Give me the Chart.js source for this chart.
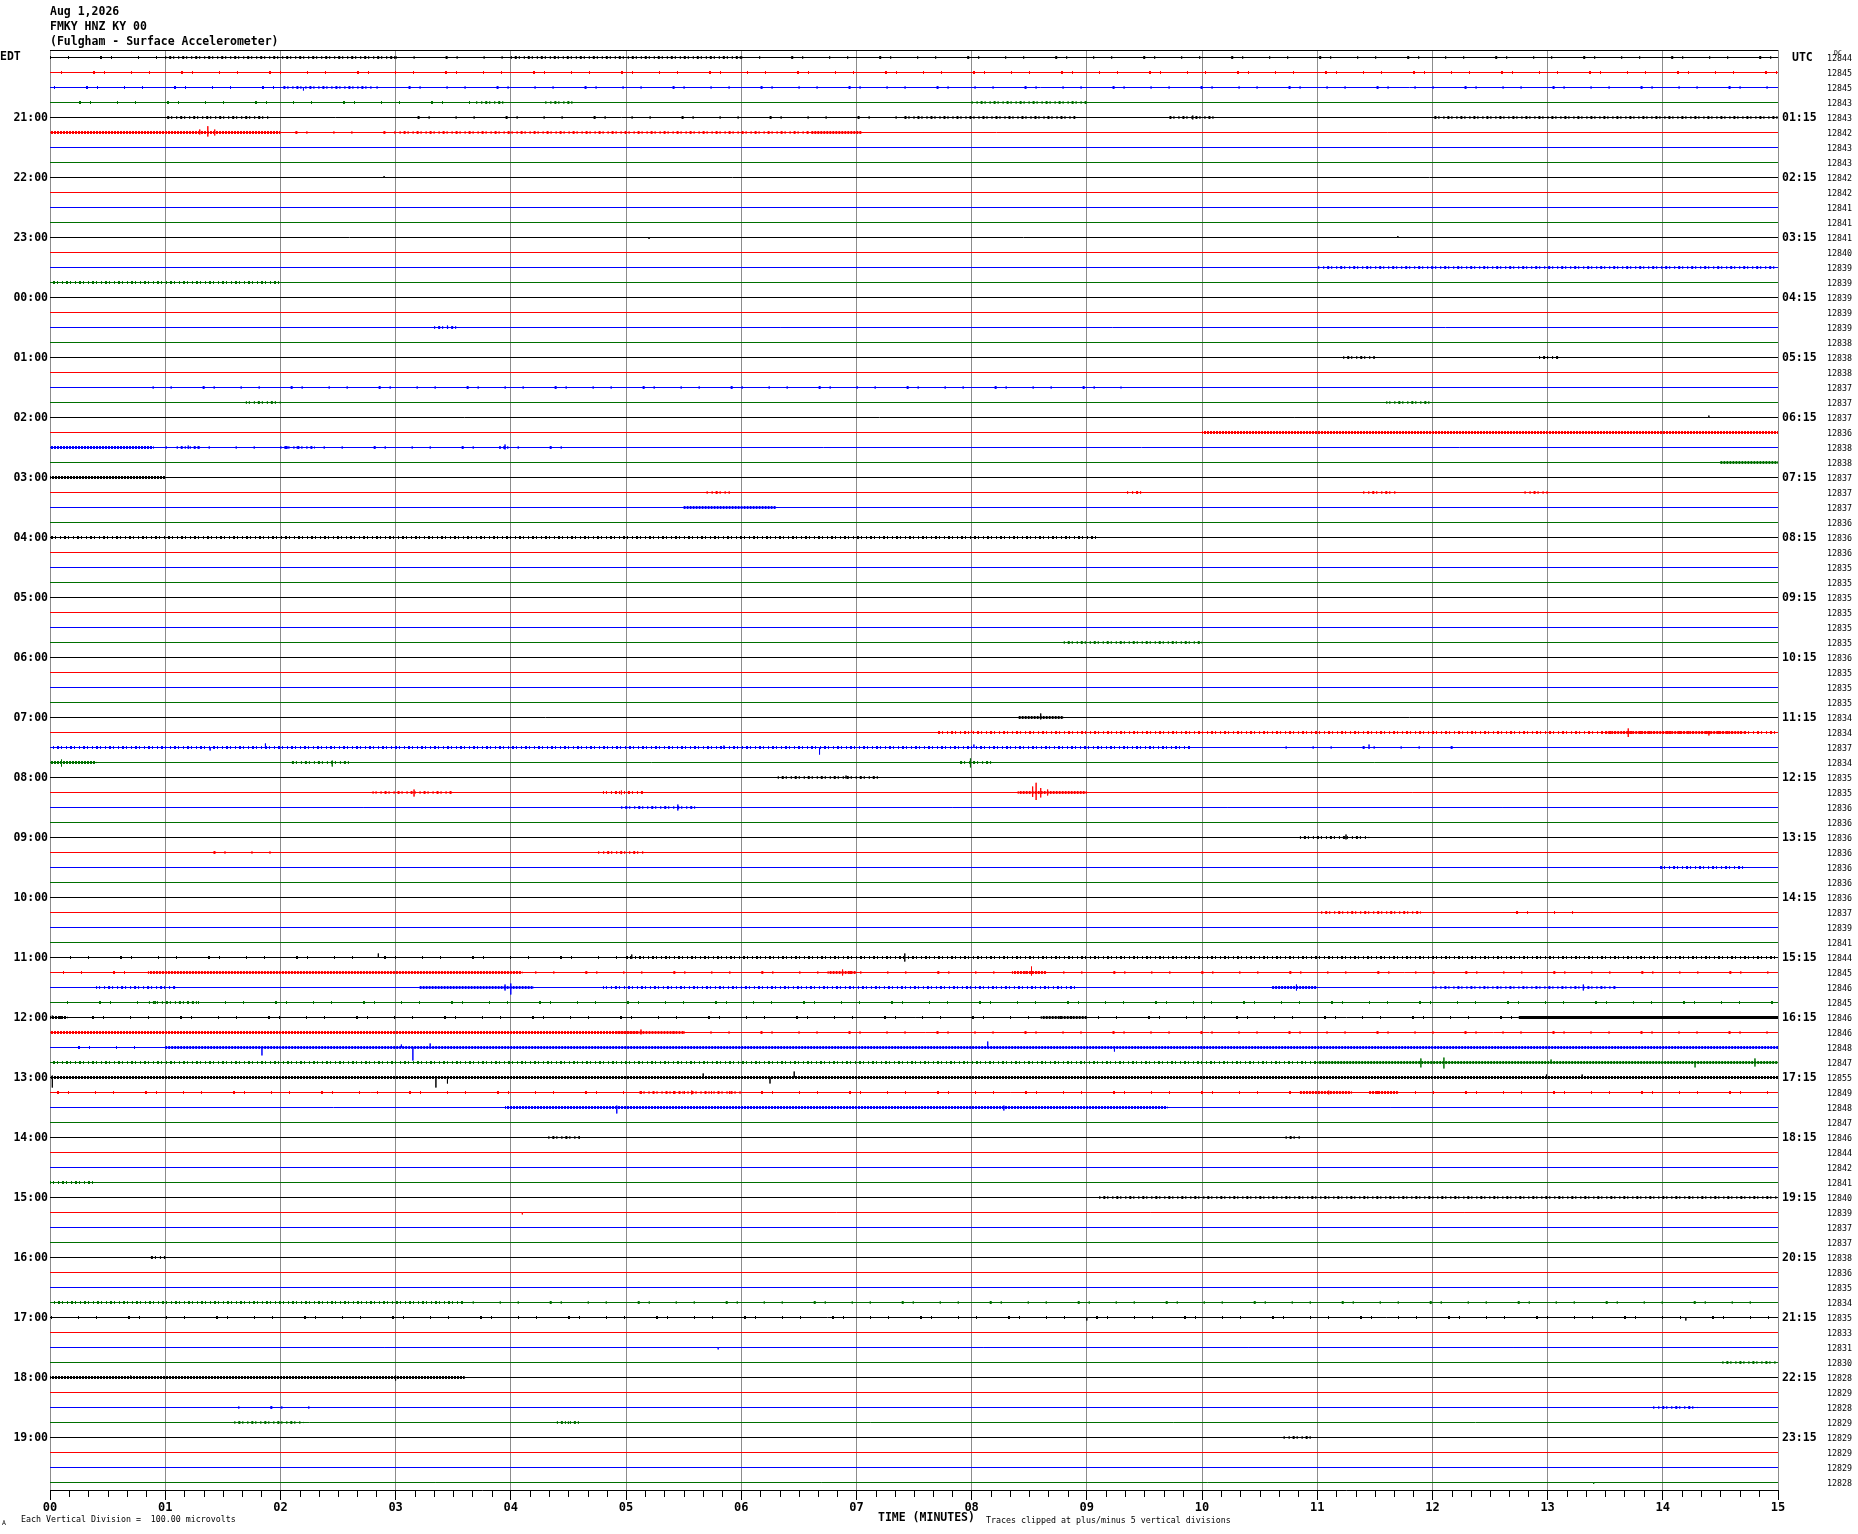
<!DOCTYPE html>
<html>
<head>
<meta charset="utf-8">
<script src="https://cdn.jsdelivr.net/npm/chart.js@4.4.1/dist/chart.umd.min.js"></script>
<style>
  html, body { margin: 0; padding: 0; background: #fff; }
  canvas { display: block; }
</style>
</head>
<body>
<canvas id="chart" width="1858" height="1534"></canvas>
<script>
// header / axis texts
const headerLines = ['Aug 1,2026', 'FMKY HNZ KY 00', '(Fulgham - Surface Accelerometer)'];
const minuteLabels = ['00','01','02','03','04','05','06','07','08','09','10','11','12','13','14','15'];
const leftHourLabels = ['EDT','21:00','22:00','23:00','00:00','01:00','02:00','03:00','04:00','05:00','06:00','07:00',
  '08:00','09:00','10:00','11:00','12:00','13:00','14:00','15:00','16:00','17:00','18:00','19:00'];
const rightHourLabels = ['UTC','01:15','02:15','03:15','04:15','05:15','06:15','07:15','08:15','09:15','10:15','11:15',
  '12:15','13:15','14:15','15:15','16:15','17:15','18:15','19:15','20:15','21:15','22:15','23:15'];

// DC level printed at the right of every trace (96 traces, 15 min each)
const dcValues = [
  12844,12845,12845,12843, 12843,12842,12843,12843, 12842,12842,12841,12841, 12841,12840,12839,12839,
  12839,12839,12839,12838, 12838,12838,12837,12837, 12837,12836,12838,12838, 12837,12837,12837,12836,
  12836,12836,12835,12835, 12835,12835,12835,12835, 12836,12835,12835,12835, 12834,12834,12837,12834,
  12835,12835,12836,12836, 12836,12836,12836,12836, 12836,12837,12839,12841, 12844,12845,12846,12845,
  12846,12846,12848,12847, 12855,12849,12848,12847, 12846,12844,12842,12841, 12840,12839,12837,12837,
  12838,12836,12835,12834, 12835,12833,12831,12830, 12828,12829,12828,12829, 12829,12829,12829,12828
];

// noisy stretches: [trace, startMin, endMin, level 0..3]
const noiseSegments = [
  [0,0,1,0],[0,1.0,3.0,1],[0,3.0,4.0,0],[0,4.0,6.0,1],[0,6.0,15,0],
  [1,0,15,0],
  [2,0,2.0,0],[2,2.0,2.8,1],[2,2.8,15,0],
  [3,0,3.7,0],[3,3.7,3.95,1],[3,4.3,4.55,1],[3,8.0,9.0,1],
  [4,1.0,1.9,1],[4,3.0,7.4,0],[4,7.4,8.9,1],[4,9.7,10.1,1],[4,12.0,15,1],
  [5,0,2.0,2],[5,2.0,3.0,0],[5,3.0,6.6,1],[5,6.6,7.05,2],
  [14,11.0,15,1],[15,0,2.0,1],[18,3.3,3.55,1],
  [20,11.2,11.5,1],[20,12.9,13.1,1],[22,0.7,9.3,0],[23,1.7,2.0,1],[23,11.6,12.0,1],
  [25,10.0,15,2],[26,0,0.9,2],[26,0.9,4.5,0],[26,1.1,1.3,1],[26,2.0,2.3,1],[26,3.9,4.0,1],
  [27,14.5,15,2],[28,0,1.0,2],
  [29,5.7,5.9,1],[29,9.35,9.5,1],[29,11.4,11.7,1],[29,12.8,13.0,1],
  [30,5.5,6.3,2],[32,0,9.1,1],[39,8.8,10.0,1],
  [44,8.4,8.8,2],[45,7.7,15,1],[45,13.5,14.7,2],
  [46,0,9.9,1],[46,10.7,12.2,0],
  [47,0,0.4,2],[47,2.1,2.6,1],[47,7.9,8.2,1],
  [48,6.3,7.2,1],
  [49,2.8,3.5,1],[49,4.8,5.15,1],[49,8.4,9.0,2],
  [50,4.95,5.6,1],[52,10.85,11.45,1],[53,1.15,2.1,0],[53,4.75,5.15,1],[54,13.95,14.7,1],
  [57,11.0,11.9,1],[57,12.7,13.4,0],
  [60,0,5.0,0],[60,5.0,15,1],
  [61,0,0.85,0],[61,0.85,4.1,2],[61,4.1,15,0],[61,6.75,7.0,2],[61,8.35,8.65,2],
  [62,0.4,1.1,1],[62,3.2,4.2,2],[62,4.8,8.9,1],[62,10.6,11.0,2],[62,12.0,13.6,1],
  [63,0,15,0],[63,0.85,1.3,1],
  [64,0,0.15,2],[64,0,12.75,0],[64,8.6,9.0,2],[64,12.75,15,3],
  [65,0,5.1,2],[65,5.1,15,0],[65,4.9,5.5,2],
  [66,0,1.0,0],[66,1.0,15,2],
  [67,0,11.0,1],[67,11.0,15,2],
  [68,0,15,2],
  [69,0,15,0],[69,5.1,6.0,1],[69,10.85,11.3,2],[69,11.45,11.7,2],
  [70,3.95,9.7,2],
  [72,4.3,4.6,1],[72,10.7,10.85,1],[75,0,0.4,1],[76,9.1,15,1],[80,0.85,1.0,1],
  [83,0,3.6,1],[83,3.6,15,0],[84,0,15,0],[87,14.5,15,1],[88,0,3.6,2],
  [90,1.6,2.3,0],[90,13.9,14.3,1],[91,1.6,2.2,1],[91,4.4,4.6,1],[92,10.7,10.95,1]
];

// single spikes: [trace, minute, up, down] in trace spacings
const spikes = [
  [2,2.2,0,0.2],[4,9.92,0.13,0.13],
  [5,1.30,0.2,0.13],[5,1.37,0.42,0.27],[5,1.43,0.2,0.2],
  [8,2.9,0.1,0],[12,5.2,0,0.1],[12,11.7,0.1,0],[18,3.45,0.13,0.1],[24,14.4,0.13,0],
  [26,1.2,0.13,0.1],[26,3.95,0.2,0.13],
  [44,8.6,0.27,0.13],
  [45,8.0,0.13,0],[45,13.7,0.27,0.3],[45,14.4,0,0.2],
  [46,1.39,0,0.2],[46,1.87,0.27,0],[46,5.85,0.13,0.1],[46,6.68,0,0.47],[46,8.02,0.2,0],[46,11.45,0.2,0.1],
  [47,0.1,0.2,0.27],[47,2.45,0.13,0.27],[47,7.99,0.27,0.33],
  [48,6.91,0.13,0.07],
  [49,3.16,0.2,0.27],[49,4.96,0.13,0.13],[49,8.53,0.4,0.3],[49,8.56,0.65,0.5],[49,8.6,0.3,0.33],[49,8.66,0.2,0.2],
  [50,5.45,0.2,0.2],[52,11.25,0.2,0.13],
  [60,2.85,0.27,0],[60,5.05,0.2,0.1],[60,7.42,0.27,0.27],
  [61,6.88,0.2,0.2],[61,8.52,0.4,0.2],
  [62,3.95,0.2,0.2],[62,4.0,0.27,0.47],[62,10.82,0.2,0.2],[62,13.31,0.2,0.2],
  [64,0.02,0.13,0.07],[65,5.13,0.2,0.13],
  [66,1.84,0,0.53],[66,3.05,0.2,0],[66,3.15,0,0.87],[66,3.3,0.27,0],[66,8.14,0.4,0],[66,9.24,0,0.27],
  [67,11.9,0.27,0.33],[67,12.1,0.33,0.4],[67,13.03,0.2,0],[67,14.28,0,0.33],[67,14.8,0.27,0.27],
  [68,0.02,0.13,0.67],[68,3.35,0,0.67],[68,3.45,0,0.4],[68,5.67,0.27,0],[68,6.25,0,0.4],[68,6.46,0.4,0],[68,12.99,0.2,0],[68,13.3,0.2,0],
  [69,5.57,0.13,0.13],[69,11.1,0.13,0.13],
  [70,4.92,0.13,0.4],[70,8.28,0.13,0.2],
  [77,4.1,0,0.13],[84,9.0,0,0.2],[84,14.2,0,0.2],[86,5.8,0,0.13],
  [88,0.7,0.13,0],[88,3.0,0.13,0.2],[91,4.5,0.07,0.1],[95,13.4,0,0.1]
];

const TRACES = 96;
const traceColors = ['#000000', '#ff0000', '#0000ff', '#007000'];
const noiseDash = [[1, 17, 1, 31, 2, 9, 1, 26], [1, 3, 2, 2, 1, 4], [2, 1], []];
const FONT = '"DejaVu Sans Mono", monospace';

function isMajor(v) {
  return Math.abs(v - Math.round(v)) < 1e-6;
}

function buildDatasets() {
  const sets = [];
  for (let i = 0; i < TRACES; i++) {
    const off = i + 0.5;
    const pts = [{ x: 0, y: off }];
    spikes.filter(s => s[0] === i).sort((a, b) => a[1] - b[1]).forEach(s => {
      pts.push({ x: s[1], y: off }, { x: s[1], y: off - s[2] }, { x: s[1], y: off + s[3] }, { x: s[1], y: off });
    });
    pts.push({ x: 15, y: off });
    sets.push({ data: pts, borderColor: traceColors[i % 4], borderWidth: 1, pointRadius: 0 });
  }
  noiseSegments.forEach(([t, a, b, lvl]) => {
    sets.push({
      data: [{ x: a, y: t + 0.5 }, { x: b, y: t + 0.5 }],
      borderColor: traceColors[t % 4],
      borderWidth: 3,
      borderDash: noiseDash[lvl],
      borderDashOffset: t * 7,
      pointRadius: 0
    });
  });
  return sets;
}

const tickValues = [];
for (let k = 0; k <= 90; k++) tickValues.push(k / 6);

const labelPlugin = {
  id: 'labels',
  afterDraw(chart) {
    const { ctx, chartArea, scales } = chart;
    const x = scales.x, y = scales.y;
    ctx.save();
    // top border
    ctx.strokeStyle = '#000';
    ctx.lineWidth = 1;
    ctx.beginPath();
    ctx.moveTo(chartArea.left, Math.floor(chartArea.top) + 0.5);
    ctx.lineTo(chartArea.right, Math.floor(chartArea.top) + 0.5);
    ctx.stroke();
    // minor ticks (10 s)
    ctx.beginPath();
    tickValues.filter(v => !isMajor(v)).forEach(v => {
      const px = Math.round(x.getPixelForValue(v)) + 0.5;
      ctx.moveTo(px, chartArea.bottom);
      ctx.lineTo(px, chartArea.bottom + 7);
    });
    ctx.stroke();

    ctx.fillStyle = '#000';
    ctx.textBaseline = 'middle';
    ctx.font = 'bold 11.5px ' + FONT;
    ctx.textAlign = 'left';
    headerLines.forEach((s, k) => ctx.fillText(s, 50, 12 + k * 15));

    leftHourLabels.forEach((s, k) => {
      const py = y.getPixelForValue(k * 4 + 0.5);
      if (k === 0) { ctx.textAlign = 'left'; ctx.fillText(s, 0, py); }
      else { ctx.textAlign = 'right'; ctx.fillText(s, 48, py + 1); }
    });
    ctx.textAlign = 'left';
    rightHourLabels.forEach((s, k) => {
      const py = y.getPixelForValue(k * 4 + 0.5);
      ctx.fillText(s, k === 0 ? 1792 : 1782, py + 1);
    });
    ctx.fillText('TIME (MINUTES)', 878, 1518);

    ctx.font = '8.3px ' + FONT;
    dcValues.forEach((v, i) => {
      ctx.fillText(String(v), 1827, y.getPixelForValue(i + 0.5) + 1);
    });
    ctx.fillText('Traces clipped at plus/minus 5 vertical divisions', 986, 1521);
    ctx.fillText('Each Vertical Division =  100.00 microvolts', 21, 1520);
    ctx.font = '6.5px ' + FONT;
    ctx.fillText('DC', 1834, 53);
    ctx.fillText('A', 2, 1523);
    ctx.restore();
  }
};

new Chart(document.getElementById('chart'), {
  type: 'line',
  data: { datasets: buildDatasets() },
  options: {
    responsive: false,
    animation: false,
    devicePixelRatio: 1,
    parsing: false,
    normalized: true,
    layout: { padding: { left: 50, right: 80, top: 50, bottom: 0 } },
    plugins: { legend: { display: false }, tooltip: { enabled: false } },
    elements: { line: { tension: 0 }, point: { radius: 0 } },
    scales: {
      x: {
        type: 'linear', min: 0, max: 15,
        afterBuildTicks: s => { s.ticks = tickValues.map(v => ({ value: v })); },
        afterFit: s => { s.height = 44; },
        ticks: {
          autoSkip: false, maxRotation: 0, padding: 1, color: '#000',
          font: { family: FONT, size: 12, weight: 'bold' },
          callback: v => isMajor(v) ? minuteLabels[Math.round(v)] : ''
        },
        grid: {
          color: c => (c.tick && isMajor(c.tick.value)) ? '#8c8c8c' : 'rgba(0,0,0,0)',
          tickColor: c => (c.tick && isMajor(c.tick.value)) ? '#000' : 'rgba(0,0,0,0)',
          tickLength: 10, lineWidth: 1
        },
        border: { display: true, color: '#000', width: 1 }
      },
      y: { type: 'linear', min: 0, max: 96, reverse: true, display: false }
    }
  },
  plugins: [labelPlugin]
});
</script>
</body>
</html>
